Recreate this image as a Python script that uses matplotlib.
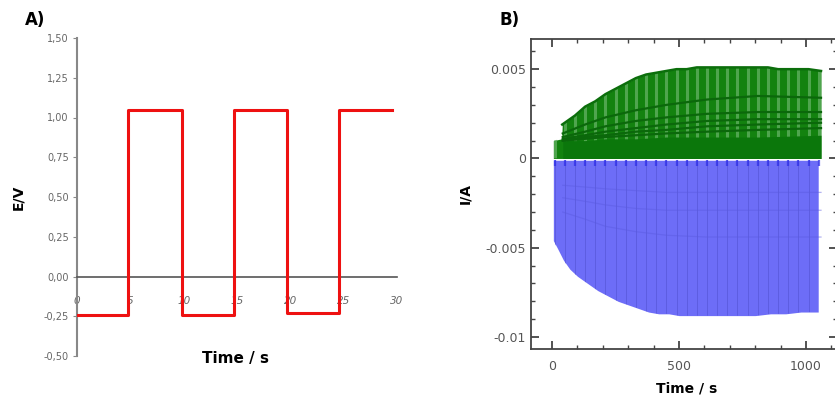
import numpy as np
import matplotlib.pyplot as plt
from matplotlib.ticker import MultipleLocator, FuncFormatter

# Panel A: potential step programme
step_t = [0, 4.8, 4.8, 9.8, 9.8, 14.7, 14.7, 19.7, 19.7, 24.6, 24.6, 29.5]
step_E = [-0.24, -0.24, 1.05, 1.05, -0.24, -0.24, 1.05, 1.05, -0.23, -0.23, 1.05, 1.05]
a_yticks = [-0.50, -0.25, 0.00, 0.25, 0.50, 0.75, 1.00, 1.25, 1.50]
a_xticks = [0, 5, 10, 15, 20, 25, 30]

# Panel B: anodic (green) and cathodic (blue) current peaks
pulse_t = [10, 50, 90, 130, 170, 210, 250, 290, 330, 370, 410, 450, 490, 530,
           570, 610, 650, 690, 730, 770, 810, 850, 890, 930, 970, 1010, 1050]

green_t = [5, 38, 40, 90, 130, 170, 210, 250, 290, 330, 370, 410, 450, 490, 530,
           570, 610, 650, 690, 730, 770, 810, 850, 890, 930, 970, 1010, 1059]
green_peak = [0.0010, 0.0011, 0.0019, 0.0024, 0.0029, 0.0032, 0.0036, 0.0039, 0.0042,
              0.0045, 0.0047, 0.0048, 0.0049, 0.0050, 0.0050, 0.0051, 0.0051, 0.0051,
              0.0051, 0.0051, 0.0051, 0.0051, 0.0051, 0.0050, 0.0050, 0.0050, 0.0050,
              0.0049]

inner_t = [42, 130, 210, 330, 450, 610, 810, 1059]
green_inner = [
    [0.0014, 0.0019, 0.0023, 0.0027, 0.0030, 0.0033, 0.0035, 0.0034],
    [0.0012, 0.0015, 0.0018, 0.0021, 0.0023, 0.0025, 0.0026, 0.0026],
    [0.0011, 0.0013, 0.0015, 0.0017, 0.0019, 0.0021, 0.0022, 0.0022],
    [0.0010, 0.0012, 0.0013, 0.0015, 0.0016, 0.0018, 0.0019, 0.0020],
    [0.0010, 0.0011, 0.0012, 0.0013, 0.0014, 0.0015, 0.0016, 0.0017],
]
green_band = [0.0010, 0.0010, 0.0011, 0.0011, 0.0012, 0.0012, 0.0012, 0.0013]

blue_t = [5, 20, 45, 70, 100, 140, 180, 220, 260, 300, 340, 380, 420, 460, 500,
          560, 620, 680, 740, 800, 860, 920, 980, 1048]
blue_peak = [-0.0046, -0.0050, -0.0057, -0.0062, -0.0066, -0.0070, -0.0074, -0.0077,
             -0.0080, -0.0082, -0.0084, -0.0086, -0.0087, -0.0087, -0.0088, -0.0088,
             -0.0088, -0.0088, -0.0088, -0.0088, -0.0087, -0.0087, -0.0086, -0.0086]
blue_inner = [
    [-0.0030, -0.0034, -0.0038, -0.0041, -0.0043, -0.0044, -0.0044, -0.0044],
    [-0.0022, -0.0024, -0.0026, -0.0028, -0.0029, -0.0029, -0.0029, -0.0029],
    [-0.0015, -0.0016, -0.0017, -0.0018, -0.0019, -0.0019, -0.0019, -0.0019],
]

fig = plt.figure(figsize=(8.35, 4.03), dpi=100)
grey = '#666666'

# ---- Panel A ----
axA = fig.add_axes([77/835, 1-356/403, 320/835, 318/403])
axA.plot(step_t, step_E, color='#ee1111', lw=2.2, zorder=3)
axA.set_xlim(0, 30)
axA.set_ylim(-0.5, 1.5)
for s in ['top', 'right']:
    axA.spines[s].set_visible(False)
axA.spines['left'].set_color('#888888')
axA.spines['left'].set_linewidth(1.5)
axA.spines['bottom'].set_position(('data', 0))
axA.spines['bottom'].set_color('#555555')
axA.spines['bottom'].set_linewidth(1.2)
axA.set_yticks(a_yticks)
axA.set_yticklabels([('%.2f' % v).replace('.', ',') for v in a_yticks])
axA.set_xticks(a_xticks)
axA.tick_params(axis='y', length=3, color='#888888', labelsize=7, labelcolor=grey, pad=3)
axA.tick_params(axis='x', length=0, labelsize=7.5, labelcolor=grey, pad=14)
for lab in axA.get_xticklabels():
    lab.set_style('italic')
axA.set_ylabel('E/V', fontsize=10, fontweight='bold', labelpad=13)
fig.text(235/835, 1-358/403, 'Time / s', fontsize=11, fontweight='bold', ha='center', va='center')
fig.text(25/835, 1-20/403, 'A)', fontsize=12, fontweight='bold', va='center')

# ---- Panel B ----
axB = fig.add_axes([531/835, 1-349/403, 306/835, 310/403])
axB.set_xlim(-83, 1122)
axB.set_ylim(-0.01067, 0.00669)

# cathodic part
bfill = axB.fill_between(blue_t, -0.0001, blue_peak, color='#6d6df7', lw=0, zorder=1)
lc = axB.vlines(pulse_t, -0.011, 0, color='#5a5add', lw=0.6, zorder=2)
lc.set_clip_path(bfill.get_paths()[0], bfill.get_transform())
axB.vlines(pulse_t, -0.0004, -0.0001, color='#2a2ae6', lw=1.6, alpha=0.7, zorder=2)
for vals in blue_inner:
    axB.plot(inner_t, vals, color='#5a5ae0', lw=0.9, alpha=0.45, zorder=2)

# anodic part
gfill = axB.fill_between(green_t, 0, green_peak, color='#13820f', lw=0, zorder=3)
gl = axB.vlines(pulse_t, 0, 0.006, color='#5fae5f', lw=2.2, alpha=0.8, zorder=4)
gl.set_clip_path(gfill.get_paths()[0], gfill.get_transform())
axB.plot(green_t[2:], green_peak[2:], color='#0b6e0b', lw=1.8, zorder=5)
axB.fill_between(inner_t, 0, green_band, color='#0b770b', lw=0, zorder=5)
for vals in green_inner:
    axB.plot(inner_t, vals, color='#0b680b', lw=1.6, zorder=6)

for s in axB.spines.values():
    s.set_color('#444444')
    s.set_linewidth(1.3)
axB.set_xticks([0, 500, 1000])
axB.set_yticks([-0.01, -0.005, 0, 0.005])
axB.xaxis.set_minor_locator(MultipleLocator(100))
axB.yaxis.set_minor_locator(MultipleLocator(0.001))
axB.yaxis.set_major_formatter(FuncFormatter(lambda v, p: '0' if abs(v) < 1e-9 else ('%g' % v)))
axB.tick_params(which='both', direction='in', top=True, right=True, color='#444444')
axB.tick_params(which='major', length=6, width=1.3, labelsize=9, labelcolor='#555555')
axB.tick_params(which='minor', length=3, width=1)
axB.tick_params(axis='x', pad=8)
axB.set_ylabel('I/A', fontsize=10, fontweight='bold', labelpad=10)
fig.text(687/835, 1-388/403, 'Time / s', fontsize=10, fontweight='bold', ha='center', va='center')
fig.text(500/835, 1-20/403, 'B)', fontsize=12, fontweight='bold', va='center')

fig.savefig('out.png', dpi=100)
